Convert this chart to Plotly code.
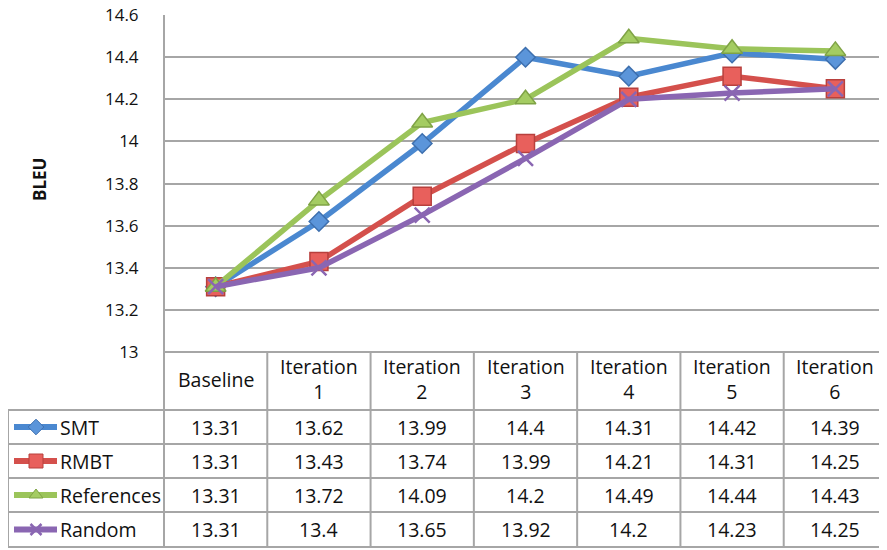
import plotly.graph_objects as go

# The page body adds an 8px offset; the figure is sized so that
# screen coordinates map 1:1 onto the reference picture.
OFF = 8
SCREEN_W, SCREEN_H = 887, 550
W, H = SCREEN_W - OFF, SCREEN_H - OFF

categories = ["Baseline", "Iteration 1", "Iteration 2", "Iteration 3",
              "Iteration 4", "Iteration 5", "Iteration 6"]
header_labels = ["Baseline", "Iteration<br>1", "Iteration<br>2", "Iteration<br>3",
                 "Iteration<br>4", "Iteration<br>5", "Iteration<br>6"]

series_names = ["SMT", "RMBT", "References", "Random"]
smt = [13.31, 13.62, 13.99, 14.4, 14.31, 14.42, 14.39]
rmbt = [13.31, 13.43, 13.74, 13.99, 14.21, 14.31, 14.25]
references = [13.31, 13.72, 14.09, 14.2, 14.49, 14.44, 14.43]
random_sel = [13.31, 13.4, 13.65, 13.92, 14.2, 14.23, 14.25]
series_values = [smt, rmbt, references, random_sel]

y_ticks = [13, 13.2, 13.4, 13.6, 13.8, 14, 14.2, 14.4, 14.6]
y_tick_labels = ["13", "13.2", "13.4", "13.6", "13.8", "14", "14.2", "14.4", "14.6"]

# styles
line_colors = ["#4A88D0", "#D4504C", "#9BC45A", "#8A66B2"]
marker_fill = ["#5B95DA", "#E8605C", "#A4CC62", "#8A66B2"]
marker_edge = ["#3D6FAE", "#B8403D", "#7FA345", "#8A66B2"]
symbols = ["diamond", "square", "triangle-up", "x-thin"]
msizes = [15, 18, 18, 15]
key_sizes = [12, 14, 12, 11]

FONT = "Open Sans"
GRID = "#A6A6A6"

# layout geometry (screen pixels)
plot_left, plot_top, plot_bottom = 164, 15, 352
table_left = 8
row_edges = [410, 444, 478, 512, 547]


def px(x):
    return (x - OFF) / W


def py(y):
    return 1 - (y - OFF) / H


fig = go.Figure()

for i, name in enumerate(series_names):
    fig.add_trace(go.Scatter(
        x=categories, y=series_values[i], mode="lines+markers", name=name,
        line=dict(color=line_colors[i], width=5.5),
        marker=dict(symbol=symbols[i], size=msizes[i], color=marker_fill[i],
                    line=dict(color=marker_edge[i], width=1.5 if i < 3 else 2.5)),
        showlegend=False, xaxis="x", yaxis="y", cliponaxis=False,
    ))

# legend keys inside table (screen-pixel overlay axis)
for i, name in enumerate(series_names):
    yc = (row_edges[i] + row_edges[i + 1]) / 2
    fig.add_trace(go.Scatter(
        x=[14, 57], y=[yc, yc], mode="lines",
        line=dict(color=line_colors[i], width=6),
        showlegend=False, xaxis="x2", yaxis="y2", hoverinfo="skip",
    ))
    fig.add_trace(go.Scatter(
        x=[36], y=[yc], mode="markers",
        marker=dict(symbol=symbols[i], size=key_sizes[i], color=marker_fill[i],
                    line=dict(color=marker_edge[i], width=1 if i < 3 else 2.5)),
        showlegend=False, xaxis="x2", yaxis="y2", hoverinfo="skip",
    ))

shapes = []


def hline(y, x0, x1):
    shapes.append(dict(type="line", xref="paper", yref="paper",
                       x0=px(x0), x1=px(x1), y0=py(y), y1=py(y),
                       line=dict(color=GRID, width=2)))


def vline(x, y0, y1):
    shapes.append(dict(type="line", xref="paper", yref="paper",
                       x0=px(x), x1=px(x), y0=py(y0), y1=py(y1),
                       line=dict(color=GRID, width=2)))


# table lines
for y in row_edges:
    hline(y, table_left, SCREEN_W)
hline(plot_bottom, plot_left, SCREEN_W)
vline(table_left, row_edges[0], row_edges[-1])
vline(plot_left, plot_top, row_edges[-1])
col_w = (SCREEN_W - plot_left) / len(categories)
for k in range(1, len(categories)):
    vline(plot_left + k * col_w, plot_bottom, row_edges[-1])

TXT = dict(family=FONT, size=19.5, color="#111")
annotations = []
# header
for j, lab in enumerate(header_labels):
    annotations.append(dict(x=categories[j], xref="x", y=py(379),
                            yref="paper", text=lab, showarrow=False, font=TXT,
                            xanchor="center", yanchor="middle"))
# rows
for i, name in enumerate(series_names):
    yc = (row_edges[i] + row_edges[i + 1]) / 2
    annotations.append(dict(x=px(58), xref="paper", y=py(yc), yref="paper",
                            text=name, showarrow=False, xanchor="left", yanchor="middle",
                            font=TXT))
    for j, v in enumerate(series_values[i]):
        annotations.append(dict(x=categories[j], xref="x", y=py(yc), yref="paper",
                                text=f"{v:g}", showarrow=False,
                                xanchor="center", yanchor="middle", font=TXT))
# y title
annotations.append(dict(x=px(40), xref="paper", y=py(180), yref="paper", text="<b>BLEU</b>",
                        textangle=-90, showarrow=False, xanchor="center", yanchor="middle",
                        font=dict(family=FONT, size=17, color="#111")))

y_min, y_max = y_ticks[0], y_ticks[-1]

fig.update_layout(
    width=W, height=H, autosize=False,
    margin=dict(l=0, r=0, t=0, b=0, pad=0, autoexpand=False),
    paper_bgcolor="white", plot_bgcolor="rgba(0,0,0,0)",
    xaxis=dict(domain=[px(plot_left), 1], range=[-0.5, 6.5], type="category",
               showticklabels=False, showgrid=False, zeroline=False, showline=False,
               categoryorder="array", categoryarray=categories, anchor="y",
               automargin=False),
    yaxis=dict(domain=[py(plot_bottom), py(plot_top)],
               range=[y_min, y_max + 0.0005],
               tickvals=y_ticks, ticktext=y_tick_labels,
               showgrid=True, gridcolor=GRID, gridwidth=2, zeroline=False,
               showline=False, ticks="outside", ticklen=21, tickcolor="rgba(0,0,0,0)",
               ticklabeloverflow="allow",
               tickfont=dict(family=FONT, size=17, color="#111"), anchor="x",
               automargin=False),
    xaxis2=dict(domain=[0, 1], range=[OFF, SCREEN_W], visible=False, anchor="y2",
                automargin=False),
    yaxis2=dict(domain=[0, 1], range=[SCREEN_H, OFF], visible=False, anchor="x2",
                automargin=False),
    shapes=shapes, annotations=annotations,
)

fig.write_html("out.html")
